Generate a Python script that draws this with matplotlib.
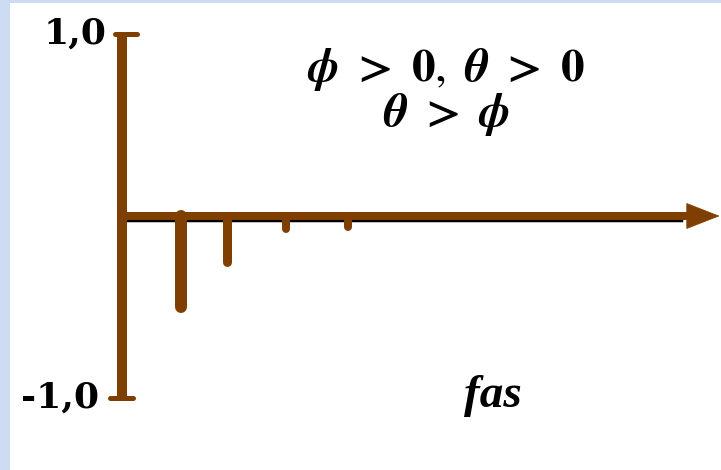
import matplotlib.pyplot as plt
from matplotlib.patches import Rectangle

# FAC teórica de um ARMA(1,1) com theta > phi > 0
lags = [1.0, 1.78, 2.78, 3.83]
fac = [-0.50, -0.25, -0.07, -0.06]
larguras = [12, 9, 8, 8]          # espessura de cada haste, em px
rotulos_y = ["1,0", "-1,0"]

MARROM = "#7f3f00"
AZUL = "#cddcf2"
PX = 72 / 100                      # px -> pt com dpi 100

plt.rcParams["mathtext.fontset"] = "stix"

fig = plt.figure(figsize=(7.21, 4.70), dpi=100, facecolor=AZUL)
fig.patches.append(Rectangle((10 / 721, 0), 711 / 721, 467 / 470,
                             transform=fig.transFigure, facecolor="white",
                             edgecolor="none", zorder=-1))

ax = fig.add_axes([0, 0, 1, 1])
ax.set_facecolor("none")
ax.set_xlim(-122 / 59, (721 - 122) / 59)
ax.set_ylim((216 - 470) / 182, 216 / 182)
ax.axis("off")

# eixo vertical com as marcas em +1 e -1
ax.plot([0, 0], [-1.0, 1.0], color=MARROM, lw=10 * PX, solid_capstyle="butt", zorder=3)
ax.plot([-0.12, 0.25], [1.0, 1.0], color=MARROM, lw=5 * PX, solid_capstyle="round", zorder=3)
ax.plot([-0.20, 0.19], [-1.0, -1.0], color=MARROM, lw=5 * PX, solid_capstyle="round", zorder=3)

# eixo horizontal (sombra preta da figura escaneada por baixo) e ponta de seta
ax.plot([0.1, 9.5], [-0.03, -0.03], color="black", lw=2.5 * PX, zorder=1)
ax.plot([0.05, 9.7], [0, 0], color=MARROM, lw=8 * PX, solid_capstyle="butt", zorder=2)
ax.annotate("", xy=(10.13, 0), xytext=(9.5, 0),
            arrowprops=dict(arrowstyle="-|>,head_length=2.3,head_width=0.9",
                            color=MARROM, lw=0.5, mutation_scale=10,
                            shrinkA=0, shrinkB=0),
            zorder=2)

# hastes da FAC
for x, v, w in zip(lags, fac, larguras):
    ax.plot([x, x], [0, v], color=MARROM, lw=w * PX, solid_capstyle="round", zorder=4)

ax.text(-15 / 59, 1.0, rotulos_y[0], ha="right", va="center",
        fontfamily="DejaVu Serif", fontweight="bold", fontsize=26)
ax.text(-23 / 59, -1.0, rotulos_y[1], ha="right", va="center",
        fontfamily="DejaVu Serif", fontweight="bold", fontsize=26)

condicoes = (r"$\boldsymbol{\phi}\ \mathbf{>}\ \mathbf{0},\ \boldsymbol{\theta}\ \mathbf{>}\ \mathbf{0}$"
             "\n"
             r"$\boldsymbol{\theta}\ \mathbf{>}\ \boldsymbol{\phi}$")
ax.text((446 - 122) / 59, (216 - 92) / 182, condicoes, ha="center", va="center",
        multialignment="center", linespacing=0.95, fontsize=34)

ax.text((493 - 122) / 59, (216 - 407) / 182, "fas", ha="center", va="baseline",
        fontfamily="Liberation Serif", fontweight="bold", fontstyle="italic",
        fontsize=34)

fig.savefig("out.png", dpi=100, facecolor=AZUL)
